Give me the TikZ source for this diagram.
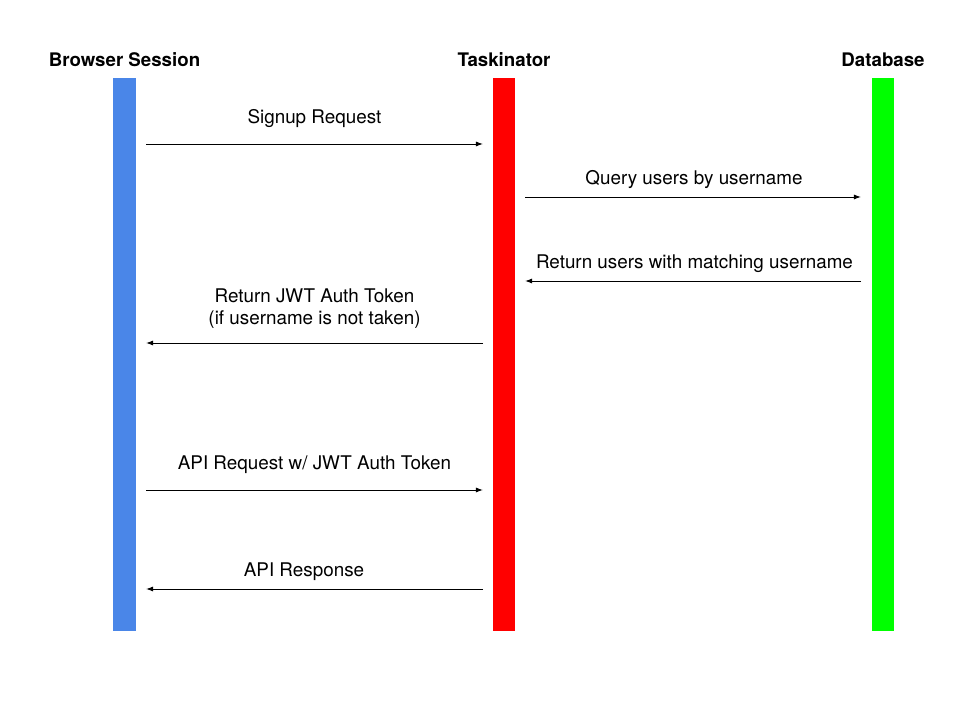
\documentclass[tikz,border=0pt]{standalone}
\usepackage{fontspec}
\setmainfont{TeX Gyre Heros}
\usetikzlibrary{arrows.meta}

\definecolor{browserblue}{HTML}{4A86E8}
\definecolor{taskred}{HTML}{FF0000}
\definecolor{dbgreen}{HTML}{00FF00}

\begin{document}
\begin{tikzpicture}[x=0.025cm,y=-0.025cm,>/.tip={Latex[length=5pt,width=3.6pt]},
	lifeline/.style={draw=none,minimum width=0.55cm,minimum height=13.825cm,inner sep=0pt},
	actor/.style={font=\fontsize{13.3}{15}\selectfont\bfseries},
	msg/.style={font=\fontsize{13.4}{15.6}\selectfont,align=center},
	call/.style={->,line width=0.7pt}]
	\useasboundingbox (0,0) rectangle (960,720);

	\node (browser) [lifeline,fill=browserblue] at (124.5,354.5) {};
	\node (tasks) [lifeline,fill=taskred] at (504,354.5) {};
	\node (db) [lifeline,fill=dbgreen] at (883,354.5) {};

	\node (browserT) [actor] at (124.5,60) {Browser Session};
	\node (tasksT) [actor] at (504,60) {Taskinator};
	\node (dbT) [actor] at (883,60) {Database};

	% Signup
	\coordinate (b1) at (146,144);
	\coordinate (t1) at (483,144);
	\draw[call] (b1) -- (t1);
	\node [msg] (signup) at (314.5,119) {Signup Request};

	% lookup
	\coordinate (t2) at (525,197);
	\coordinate (d2) at (861,197);
	\draw[call] (t2) -- (d2);
	\node [msg] (query) at (694,180) {Query users by username};

	\coordinate (d3) at (861,281);
	\coordinate (t3) at (525,281);
	\draw[call] (d3) -- (t3);
	\node [msg] (found) at (694.5,264) {Return users with matching username};

	% token
	\coordinate (t4) at (483,343);
	\coordinate (b4) at (146,343);
	\draw[call] (t4) -- (b4);
	\node [msg] (token) at (314.5,309) {Return JWT Auth Token\\(if username is not taken)};

	% api
	\coordinate (b5) at (146,490);
	\coordinate (t5) at (483,490);
	\draw[call] (b5) -- (t5);
	\node [msg] (apireq) at (314.5,465) {API Request w/ JWT Auth Token};

	\coordinate (t6) at (483,589);
	\coordinate (b6) at (146,589);
	\draw[call] (t6) -- (b6);
	\node [msg] (apires) at (304,572) {API Response};
\end{tikzpicture}
\end{document}
